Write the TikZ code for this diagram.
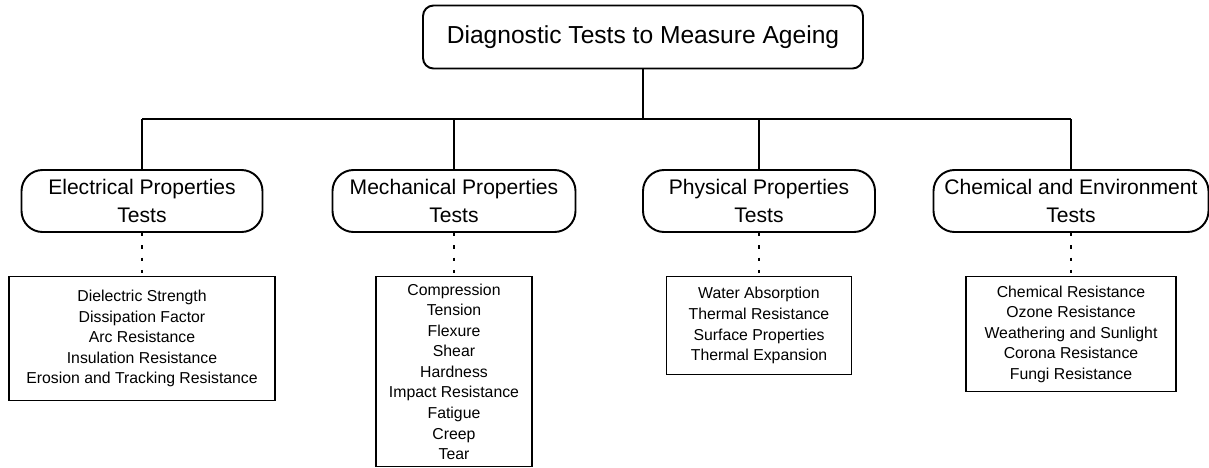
\documentclass[tikz,border=0pt]{standalone}
\usepackage{fontspec}
\setmainfont{Liberation Sans}
\usetikzlibrary{positioning}
\def\px{0.02cm}
\tikzset{
  headbox/.style={
    rectangle,
    rounded corners=6pt,
    minimum width=440*\px,
    minimum height=63*\px,
    draw=black,
    line width=1.1pt,
    font=\fontsize{14}{16}\selectfont
    },
  groupbox/.style={
    rectangle,
    rounded corners=12pt,
    minimum height=62*\px,
    inner sep=0pt,
    align=center,
    draw=black,
    line width=1.1pt,
    font=\fontsize{12}{16}\selectfont
    },
  listbox/.style={
    rectangle,
    inner ysep=2pt,
    align=center,
    draw=black,
    line width=0.8pt,
    font=\fontsize{9}{11.7}\selectfont
    },
  tree/.style={line width=0.8pt},
  dots/.style={line width=0.8pt, dash pattern=on 2pt off 5pt},
}

\begin{document}
\begin{tikzpicture}[x=\px, y=-\px]
    \useasboundingbox (0,0) rectangle (1209,467);

    % Draw the top node
    \node[headbox] (head) at (643,37) {Diagnostic Tests to Measure Ageing};
    \coordinate (hub) at (643,119);

    % Draw the four groups of tests
    \foreach \name / \x / \w / \txt in {elec/142/241/{Electrical Properties\\Tests},
                                      mech/454/243/{Mechanical Properties\\Tests},
                                      phys/759/232/{Physical Properties\\Tests},
                                      chem/1071/275/{Chemical and Environment\\Tests}}
        \node[groupbox, minimum width=\w*\px] (\name) at (\x,201) {\txt};

    % Draw the lists of tests
    \node[listbox, minimum width=266*\px, minimum height=124*\px, below=43*\px of elec] (elec-list)
        {Dielectric Strength\\Dissipation Factor\\Arc Resistance\\Insulation Resistance\\Erosion and Tracking Resistance};
    \node[listbox, minimum width=156*\px, minimum height=190*\px, below=43*\px of mech] (mech-list)
        {Compression\\Tension\\Flexure\\Shear\\Hardness\\Impact Resistance\\Fatigue\\Creep\\Tear};
    \node[listbox, minimum width=185*\px, minimum height=98*\px, below=43*\px of phys] (phys-list)
        {Water Absorption\\Thermal Resistance\\Surface Properties\\Thermal Expansion};
    \node[listbox, minimum width=210*\px, minimum height=115*\px, below=43*\px of chem] (chem-list)
        {Chemical Resistance\\Ozone Resistance\\Weathering and Sunlight\\Corona Resistance\\Fungi Resistance};

    % Connect the top node with every group
    \draw[tree] (head) -- (hub);
    \draw[tree] (elec.north |- hub) -- (chem.north |- hub);
    \foreach \name in {elec,mech,phys,chem}
        \draw[tree] (\name.north |- hub) -- (\name.north);

    % Connect every group with its list
    \foreach \name in {elec,mech,phys,chem}
        \draw[dots] (\name.south) -- (\name-list.north);
\end{tikzpicture}
\end{document}
